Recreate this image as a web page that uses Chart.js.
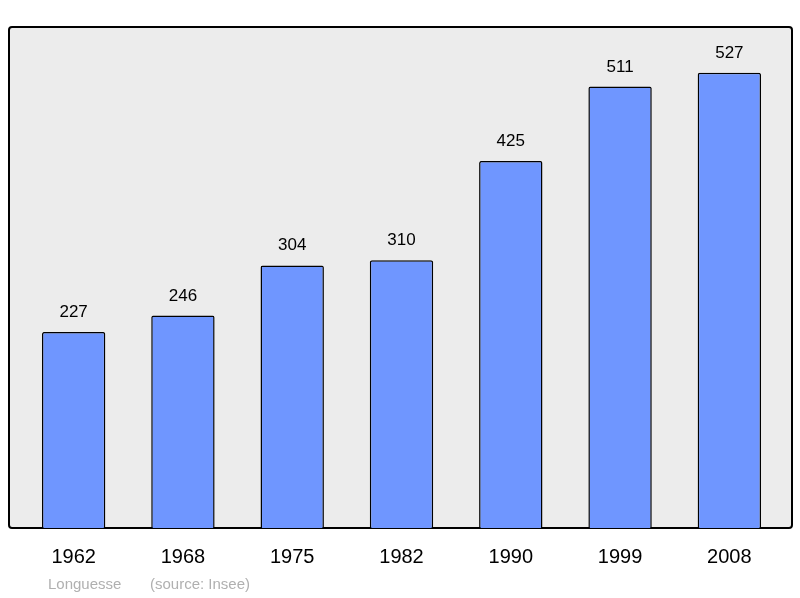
<!DOCTYPE html>
<html>
<head>
<meta charset="utf-8">
<script src="https://cdn.jsdelivr.net/npm/chart.js@4"></script>
<style>
  html, body { margin: 0; padding: 0; background: #fff; }
  #wrap { width: 800px; height: 598px; }
</style>
</head>
<body>
<div id="wrap"><canvas id="chart"></canvas></div>
<script>
const years = ['1962', '1968', '1975', '1982', '1990', '1999', '2008'];
const population = [227, 246, 304, 310, 425, 511, 527];
const town = 'Longuesse';
const source = '(source: Insee)';

// frame, value labels, year labels and footer
const decor = {
  id: 'decor',
  beforeDraw(chart) {
    const ctx = chart.ctx, a = chart.chartArea;
    ctx.save();
    ctx.beginPath();
    ctx.roundRect(9, a.top, 783, a.bottom - a.top, 3);
    ctx.fillStyle = '#ececec';
    ctx.fill();
    ctx.lineWidth = 2;
    ctx.strokeStyle = '#000';
    ctx.stroke();
    ctx.restore();
  },
  afterDatasetsDraw(chart) {
    const ctx = chart.ctx, a = chart.chartArea;
    const meta = chart.getDatasetMeta(0);
    const xs = chart.scales.x;
    ctx.save();
    ctx.fillStyle = '#000';
    ctx.textAlign = 'center';
    ctx.textBaseline = 'alphabetic';
    ctx.font = '17px "Liberation Sans", Arial, sans-serif';
    meta.data.forEach((bar, i) => {
      ctx.fillText(population[i], bar.x, bar.y - 15);
    });
    ctx.font = '20px "Liberation Sans", Arial, sans-serif';
    years.forEach((y, i) => {
      ctx.fillText(y, xs.getPixelForValue(i), a.bottom + 35);
    });
    ctx.fillStyle = '#b0b0b0';
    ctx.textAlign = 'left';
    ctx.font = '15px "Liberation Sans", Arial, sans-serif';
    ctx.fillText(town, 48, 589);
    ctx.fillText(source, 150, 589);
    ctx.restore();
  }
};

new Chart(document.getElementById('chart'), {
  type: 'bar',
  data: {
    labels: years,
    datasets: [{
      data: population,
      backgroundColor: '#6f96ff',
      borderColor: '#000',
      borderWidth: 1.5,
      borderSkipped: 'bottom',
      borderRadius: 2,
      barPercentage: 0.58,
      categoryPercentage: 1
    }]
  },
  options: {
    responsive: true,
    maintainAspectRatio: false,
    animation: false,
    layout: { padding: { top: 27, left: 19, right: 16, bottom: 70 } },
    plugins: { legend: { display: false }, tooltip: { enabled: false } },
    scales: {
      x: { display: false },
      y: { display: false, min: 0, max: 580 }
    }
  },
  plugins: [decor]
});
</script>
</body>
</html>
